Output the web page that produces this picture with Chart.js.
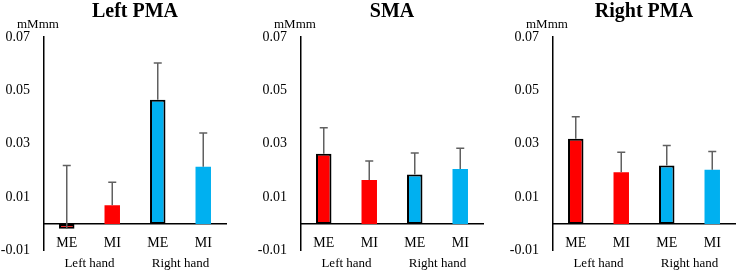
<!DOCTYPE html>
<html>
<head>
<meta charset="utf-8">
<script src="https://cdn.jsdelivr.net/npm/chart.js@4"></script>
<style>
  html, body { margin: 0; padding: 0; background: #fff; overflow: hidden; }
  #wrap { position: relative; width: 737px; height: 273px; overflow: hidden; }
  canvas { position: absolute; top: 0; }
</style>
</head>
<body>
<div id="wrap">
  <canvas id="c0" width="232" height="273" style="left:0px"></canvas>
  <canvas id="c1" width="232" height="273" style="left:257px"></canvas>
  <canvas id="c2" width="232" height="273" style="left:509px"></canvas>
</div>
<script>
// data
const categories = ['ME', 'MI', 'ME', 'MI'];
const groups = ['Left hand', 'Right hand'];
const yTicks = [-0.01, 0.01, 0.03, 0.05, 0.07];
const unitLabel = 'mMmm';
const titles = ['Left PMA', 'SMA', 'Right PMA'];

const leftPMA = [-0.0018, 0.0070, 0.0465, 0.0214];
const leftPMAErr = [0.0237, 0.0086, 0.0138, 0.0126];
const sma = [0.0263, 0.0164, 0.0185, 0.0206];
const smaErr = [0.0097, 0.0072, 0.0081, 0.0077];
const rightPMA = [0.0319, 0.0193, 0.0219, 0.0203];
const rightPMAErr = [0.0082, 0.0075, 0.0075, 0.0068];

const serif = "'Liberation Serif', 'Times New Roman', serif";
const barColors = ['#ff0000', '#ff0000', '#00b0f0', '#00b0f0'];
const barBorders = [2, 0, 2, 0];

// upper error bars only, drawn from the bar value to mean + error
const errorBars = {
  id: 'errorBars',
  afterDatasetsDraw(chart) {
    const { ctx } = chart;
    const y = chart.scales.y;
    const ds = chart.data.datasets[0];
    const meta = chart.getDatasetMeta(0);
    ctx.save();
    ctx.strokeStyle = '#606060';
    ctx.lineWidth = 1.5;
    meta.data.forEach((bar, i) => {
      const base = y.getPixelForValue(ds.data[i]);
      const top = y.getPixelForValue(ds.data[i] + ds.errorUp[i]);
      ctx.beginPath();
      ctx.moveTo(bar.x, base);
      ctx.lineTo(bar.x, top);
      ctx.moveTo(bar.x - 4, top);
      ctx.lineTo(bar.x + 4, top);
      ctx.stroke();
    });
    ctx.restore();
  }
};

// small unit text above the y axis
const unitText = {
  id: 'unitText',
  afterDraw(chart) {
    const { ctx, chartArea } = chart;
    ctx.save();
    ctx.font = '13px ' + serif;
    ctx.fillStyle = '#000';
    ctx.textAlign = 'left';
    ctx.textBaseline = 'middle';
    ctx.fillText(unitLabel, chartArea.left - 27, 25);
    ctx.restore();
  }
};

function makePanel(id, title, values, errors) {
  return new Chart(document.getElementById(id), {
    type: 'bar',
    data: {
      labels: categories,
      datasets: [{
        data: values,
        errorUp: errors,
        backgroundColor: barColors,
        borderColor: '#000',
        borderWidth: barBorders,
        borderSkipped: false,
        barPercentage: 0.34,
        categoryPercentage: 1.0
      }]
    },
    plugins: [errorBars, unitText],
    options: {
      responsive: false,
      animation: false,
      devicePixelRatio: 1,
      layout: { padding: { top: 0, right: 6, bottom: 20, left: 0 } },
      plugins: {
        legend: { display: false },
        tooltip: { enabled: false },
        title: {
          display: true,
          text: title,
          fullSize: false,
          color: '#000',
          font: { family: serif, size: 20, weight: 'bold' },
          padding: { top: 0, bottom: 13 }
        }
      },
      scales: {
        x: {
          position: { y: 0 },
          grid: { display: false, drawTicks: false },
          border: { display: true, color: '#000', width: 1.5 },
          ticks: { color: '#000', font: { family: serif, size: 14 }, padding: 11 }
        },
        x2: {
          type: 'category',
          labels: groups,
          offset: true,
          position: { y: 0 },
          grid: { display: false, drawTicks: true, tickLength: 23 },
          border: { display: false },
          ticks: { color: '#000', font: { family: serif, size: 13 }, padding: 9 }
        },
        y: {
          min: -0.01,
          max: 0.07,
          grid: { display: false, drawTicks: false },
          border: { display: true, color: '#000', width: 1.5 },
          afterBuildTicks: (scale) => { scale.ticks = yTicks.map(v => ({ value: v })); },
          afterFit: (scale) => { scale.width = 44; },
          ticks: {
            color: '#000',
            font: { family: serif, size: 14 },
            padding: 14,
            callback: (v) => Number(v).toFixed(2)
          }
        }
      }
    }
  });
}

makePanel('c0', titles[0], leftPMA, leftPMAErr);
makePanel('c1', titles[1], sma, smaErr);
makePanel('c2', titles[2], rightPMA, rightPMAErr);
</script>
</body>
</html>
